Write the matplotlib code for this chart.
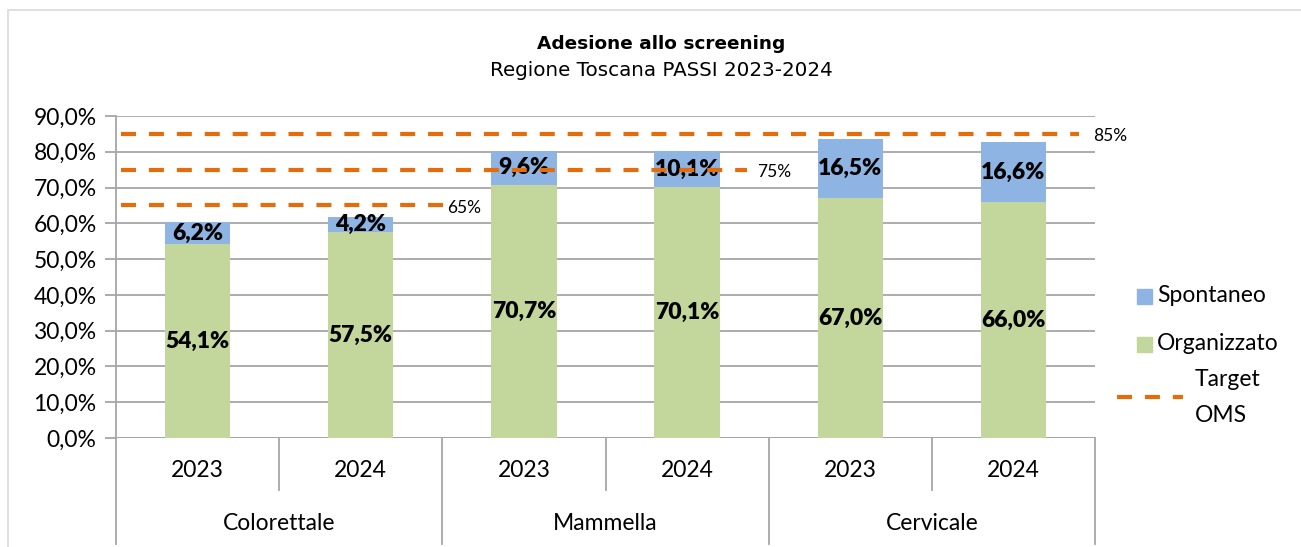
import matplotlib.pyplot as plt
import matplotlib.transforms as mtransforms
from matplotlib.patches import Rectangle

plt.rcParams['font.family'] = ['Lato', 'DejaVu Sans']

groups = ["Colorettale", "Mammella", "Cervicale"]
years = ["2023", "2024", "2023", "2024", "2023", "2024"]
organizzato = [54.1, 57.5, 70.7, 70.1, 67.0, 66.0]
spontaneo = [6.2, 4.2, 9.6, 10.1, 16.5, 16.6]
target_values = [65, 75, 85]
target_labels = ["65%", "75%", "85%"]
target_ends = [1.52, 3.37, 5.40]    # where each dashed target line stops (x data)
target_text_x = [1.53, 3.43, 5.49]  # where its label starts

green = "#C3D69B"
blue = "#8EB4E3"
orange = "#E46C0A"
grid_col = "#A6A6A6"
dash = (3.6, 3.1)
fs = 16.5

W, H = 1301, 547
fig = plt.figure(figsize=(W / 100, H / 100), dpi=100)
fig.patches.append(Rectangle((8 / W, -0.1), 1.1, (537 / H) + 0.1, transform=fig.transFigure,
                             fill=False, edgecolor="#D9D9D9", linewidth=1.2))
ax = fig.add_axes([116 / W, 109 / H, 979 / W, 322 / H])

x = list(range(len(years)))
ax.bar(x, organizzato, width=0.4, color=green, zorder=2)
ax.bar(x, spontaneo, width=0.4, bottom=organizzato, color=blue, zorder=2)

for xi, o, s in zip(x, organizzato, spontaneo):
    ax.text(xi, o / 2, f"{o:.1f}%".replace(".", ","), ha="center", va="center",
            fontsize=16.5, fontweight="heavy", zorder=4)
    ax.text(xi, o + s / 2, f"{s:.1f}%".replace(".", ","), ha="center", va="center",
            fontsize=16.5, fontweight="heavy", zorder=4)

for val, lab, end, tx in zip(target_values, target_labels, target_ends, target_text_x):
    ax.plot([-0.47, end], [val, val], color=orange, linewidth=3, dashes=dash, zorder=5,
            clip_on=False)
    ax.text(tx, val - 0.6, lab, ha="left", va="center", fontsize=12.5, zorder=6)

ax.set_xlim(-0.5, 5.5)
ax.set_ylim(0, 90)
ax.set_yticks(range(0, 91, 10))
ax.set_yticklabels([f"{v},0%" for v in range(0, 91, 10)], fontsize=fs)
ax.yaxis.grid(True, color=grid_col, linewidth=1.3, zorder=0)
ax.tick_params(axis="y", length=8, color=grid_col, width=1.3, pad=6)
ax.set_xticks([])
for side in ["top", "right", "bottom"]:
    ax.spines[side].set_visible(False)
ax.spines["left"].set_color(grid_col)
ax.spines["left"].set_linewidth(1.3)
ax.axhline(0, color=grid_col, linewidth=1.3, zorder=1)

# two-level category axis
trans = mtransforms.blended_transform_factory(ax.transData, ax.transAxes)
for xi, yr in zip(x, years):
    ax.text(xi, -0.10, yr, transform=trans, ha="center", va="center", fontsize=fs)
for gi, g in enumerate(groups):
    ax.text(gi * 2 + 0.5, -0.265, g, transform=trans, ha="center", va="center", fontsize=fs)
for b in [0.5, 2.5, 4.5]:
    ax.plot([b, b], [0, -0.162], transform=trans, color=grid_col, linewidth=1.3, clip_on=False)
for b in [-0.5, 1.5, 3.5, 5.5]:
    ax.plot([b, b], [0, -0.33], transform=trans, color=grid_col, linewidth=1.3, clip_on=False)

fig.text(661 / W, 1 - 44 / H, "Adesione allo screening", ha="center", va="center",
         fontsize=13.3, fontweight="bold", family="DejaVu Sans")
fig.text(661 / W, 1 - 71 / H, "Regione Toscana PASSI 2023-2024", ha="center", va="center",
         fontsize=14.3, family="DejaVu Sans")

# legend, drawn by hand to follow the reference layout
fig.patches.append(Rectangle((1137 / W, 1 - 304 / H), 15 / W, 15 / H, transform=fig.transFigure,
                             color=blue))
fig.patches.append(Rectangle((1137 / W, 1 - 352 / H), 15 / W, 15 / H, transform=fig.transFigure,
                             color=green))
fig.text(1157 / W, 1 - 296 / H, "Spontaneo", ha="left", va="center", fontsize=fs)
fig.text(1157 / W, 1 - 344 / H, "Organizzato", ha="left", va="center", fontsize=fs)
fig.lines.append(plt.Line2D([1117 / W, 1183 / W], [1 - 397 / H, 1 - 397 / H],
                            transform=fig.transFigure, color=orange, linewidth=3, dashes=dash))
fig.text(1195 / W, 1 - 380 / H, "Target", ha="left", va="center", fontsize=fs)
fig.text(1195 / W, 1 - 415 / H, "OMS", ha="left", va="center", fontsize=fs)

fig.savefig("out.png", dpi=100)
